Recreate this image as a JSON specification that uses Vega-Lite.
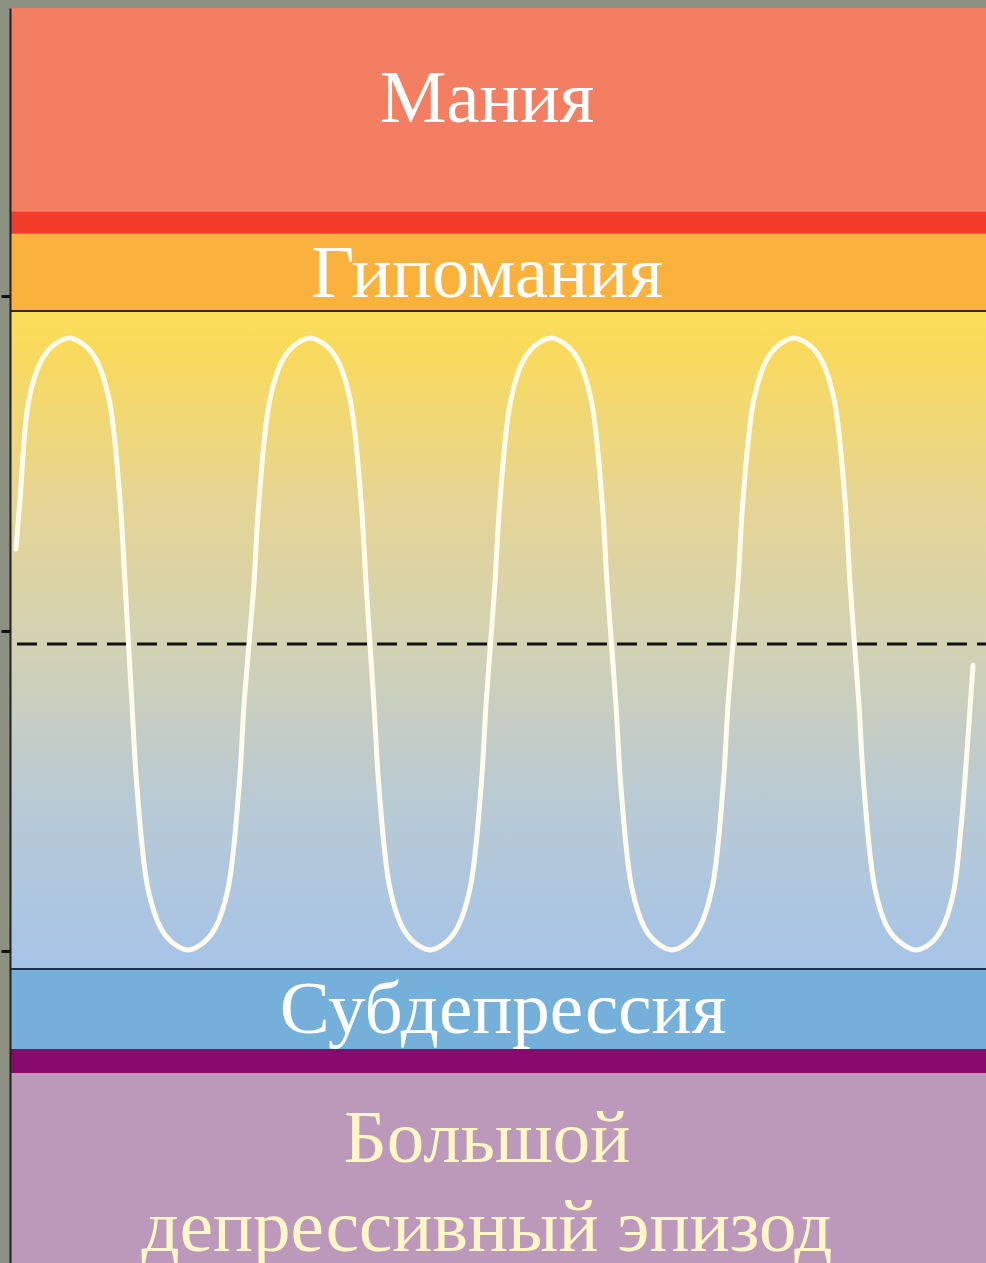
{
  "$schema": "https://vega.github.io/schema/vega-lite/v6.json",
  "width": 976,
  "height": 1255,
  "autosize": {"type": "none"},
  "padding": {"left": 10, "top": 8, "right": 0, "bottom": 0},
  "background": "#8C9080",
  "config": {"view": {"stroke": null}},
  "resolve": {"scale": {"color": "independent"}},
  "layer": [
    {
      "data": {"values": [
        {"band": "Мания", "top": 207.8, "bottom": 141.2},
        {"band": "граница мании", "top": 141.2, "bottom": 134.0},
        {"band": "Гипомания", "top": 134.0, "bottom": 108.8},
        {"band": "Субдепрессия", "top": -106.2, "bottom": -132.4},
        {"band": "граница депрессии", "top": -132.4, "bottom": -140.2},
        {"band": "Большой депрессивный эпизод", "top": -140.2, "bottom": -202.3}
      ]},
      "mark": {"type": "rect"},
      "encoding": {
        "x": {"datum": 0, "type": "quantitative", "scale": {"domain": [0, 976], "nice": false, "zero": false}, "axis": null},
        "x2": {"datum": 976},
        "y": {"field": "top", "type": "quantitative", "scale": {"domain": [-202.3, 207.8], "nice": false, "zero": false},
          "axis": {"values": [113.7, 4.2, -100.3], "labels": false, "title": null, "grid": false, "ticks": true, "tickSize": 9, "tickColor": "#111111", "tickWidth": 3, "domain": true, "domainColor": "#222222", "domainWidth": 2, "zindex": 2}},
        "y2": {"field": "bottom"},
        "color": {"field": "band", "type": "nominal", "legend": null,
          "scale": {"domain": ["Мания", "граница мании", "Гипомания", "Субдепрессия", "граница депрессии", "Большой депрессивный эпизод"],
                    "range": ["#F47E61", "#F23B28", "#FBB23D", "#74B0DA", "#880A6C", "#BC99BB"]}}
      }
    },
    {
      "data": {"values": [{"band": "Норма", "top": 108.8, "bottom": -106.2}]},
      "mark": {"type": "rect", "fill": {"gradient": "linear", "x1": 0, "y1": 0, "x2": 0, "y2": 1, "stops": [
        {"offset": 0, "color": "#FCDE5C"},
        {"offset": 0.05, "color": "#FADA5A"},
        {"offset": 0.29, "color": "#E6D594"},
        {"offset": 0.5, "color": "#D3D2B2"},
        {"offset": 0.74, "color": "#B9CAD3"},
        {"offset": 1, "color": "#A6C4E8"}
      ]}},
      "encoding": {
        "x": {"datum": 0, "type": "quantitative", "scale": {"domain": [0, 976], "nice": false, "zero": false}, "axis": null},
        "x2": {"datum": 976},
        "y": {"field": "top", "type": "quantitative", "scale": {"domain": [-202.3, 207.8], "nice": false, "zero": false}},
        "y2": {"field": "bottom"}
      }
    },
    {
      "data": {"values": [{"level": 108.8, "c": "a"}, {"level": -106.2, "c": "b"}]},
      "mark": {"type": "rule", "strokeWidth": 2},
      "encoding": {
        "y": {"field": "level", "type": "quantitative", "scale": {"domain": [-202.3, 207.8], "nice": false, "zero": false}},
        "color": {"field": "c", "type": "nominal", "legend": null, "scale": {"domain": ["a", "b"], "range": ["#3A2A10", "#1A3050"]}}
      }
    },
    {
      "data": {"values": [{"level": 0}]},
      "mark": {"type": "rule", "color": "#111111", "strokeWidth": 3, "strokeDash": [20, 10]},
      "encoding": {
        "x": {"datum": 7, "type": "quantitative", "scale": {"domain": [0, 976], "nice": false, "zero": false}, "axis": null},
        "x2": {"datum": 976},
        "y": {"field": "level", "type": "quantitative", "scale": {"domain": [-202.3, 207.8], "nice": false, "zero": false}}
      }
    },
    {
      "data": {"values": [
        {"t": 6, "mood": 31}, {"t": 10, "mood": 47}, {"t": 19, "mood": 80}, {"t": 32, "mood": 93}, {"t": 45, "mood": 98},
        {"t": 59, "mood": 100}, {"t": 73, "mood": 98}, {"t": 86, "mood": 93}, {"t": 99, "mood": 80}, {"t": 110, "mood": 47}, {"t": 115, "mood": 20},
        {"t": 118.5, "mood": 0},
        {"t": 122, "mood": -20}, {"t": 127, "mood": -47}, {"t": 138, "mood": -80}, {"t": 151, "mood": -93}, {"t": 164, "mood": -98},
        {"t": 178, "mood": -100}, {"t": 192, "mood": -98}, {"t": 205, "mood": -93}, {"t": 218, "mood": -80}, {"t": 229, "mood": -47}, {"t": 234, "mood": -20},
        {"t": 239, "mood": 0},
        {"t": 244, "mood": 20}, {"t": 249, "mood": 47}, {"t": 260, "mood": 80}, {"t": 273, "mood": 93}, {"t": 286, "mood": 98},
        {"t": 300, "mood": 100}, {"t": 314, "mood": 98}, {"t": 327, "mood": 93}, {"t": 340, "mood": 80}, {"t": 351, "mood": 47}, {"t": 356, "mood": 20},
        {"t": 360, "mood": 0},
        {"t": 364, "mood": -20}, {"t": 369, "mood": -47}, {"t": 380, "mood": -80}, {"t": 393, "mood": -93}, {"t": 406, "mood": -98},
        {"t": 420, "mood": -100}, {"t": 434, "mood": -98}, {"t": 447, "mood": -93}, {"t": 460, "mood": -80}, {"t": 471, "mood": -47}, {"t": 476, "mood": -20},
        {"t": 480.5, "mood": 0},
        {"t": 485, "mood": 20}, {"t": 490, "mood": 47}, {"t": 501, "mood": 80}, {"t": 514, "mood": 93}, {"t": 527, "mood": 98},
        {"t": 541, "mood": 100}, {"t": 555, "mood": 98}, {"t": 568, "mood": 93}, {"t": 581, "mood": 80}, {"t": 592, "mood": 47}, {"t": 597, "mood": 20},
        {"t": 601.5, "mood": 0},
        {"t": 606, "mood": -20}, {"t": 611, "mood": -47}, {"t": 622, "mood": -80}, {"t": 635, "mood": -93}, {"t": 648, "mood": -98},
        {"t": 662, "mood": -100}, {"t": 676, "mood": -98}, {"t": 689, "mood": -93}, {"t": 702, "mood": -80}, {"t": 713, "mood": -47}, {"t": 718, "mood": -20},
        {"t": 723, "mood": 0},
        {"t": 728, "mood": 20}, {"t": 733, "mood": 47}, {"t": 744, "mood": 80}, {"t": 757, "mood": 93}, {"t": 770, "mood": 98},
        {"t": 784, "mood": 100}, {"t": 798, "mood": 98}, {"t": 811, "mood": 93}, {"t": 824, "mood": 80}, {"t": 835, "mood": 47}, {"t": 840, "mood": 20},
        {"t": 844.5, "mood": 0},
        {"t": 849, "mood": -20}, {"t": 854, "mood": -47}, {"t": 865, "mood": -80}, {"t": 878, "mood": -93}, {"t": 892, "mood": -98},
        {"t": 906, "mood": -100}, {"t": 920, "mood": -98}, {"t": 932, "mood": -93}, {"t": 943, "mood": -82}, {"t": 951, "mood": -60}, {"t": 957, "mood": -35},
        {"t": 963, "mood": -7}
      ]},
      "mark": {"type": "line", "color": "#FFFCEE", "strokeWidth": 5, "interpolate": "catmull-rom", "strokeCap": "round"},
      "encoding": {
        "x": {"field": "t", "type": "quantitative", "scale": {"domain": [0, 976], "nice": false, "zero": false}, "axis": null},
        "y": {"field": "mood", "type": "quantitative", "scale": {"domain": [-202.3, 207.8], "nice": false, "zero": false}}
      }
    },
    {
      "data": {"values": [
        {"label": "Мания", "t": 477, "level": 170.6, "kind": "light"},
        {"label": "Гипомания", "t": 477, "level": 113.4, "kind": "light"},
        {"label": "Субдепрессия", "t": 493, "level": -127.1, "kind": "light"},
        {"label": "Большой", "t": 477, "level": -169.3, "kind": "cream"},
        {"label": "депрессивный эпизод", "t": 477, "level": -198.4, "kind": "cream"}
      ]},
      "mark": {"type": "text", "font": "Liberation Serif", "fontSize": 75, "align": "center", "baseline": "alphabetic"},
      "encoding": {
        "x": {"field": "t", "type": "quantitative", "scale": {"domain": [0, 976], "nice": false, "zero": false}, "axis": null},
        "y": {"field": "level", "type": "quantitative", "scale": {"domain": [-202.3, 207.8], "nice": false, "zero": false}},
        "text": {"field": "label"},
        "color": {"field": "kind", "type": "nominal", "legend": null, "scale": {"domain": ["light", "cream"], "range": ["#FFFFFF", "#FFF8C6"]}}
      }
    }
  ]
}
